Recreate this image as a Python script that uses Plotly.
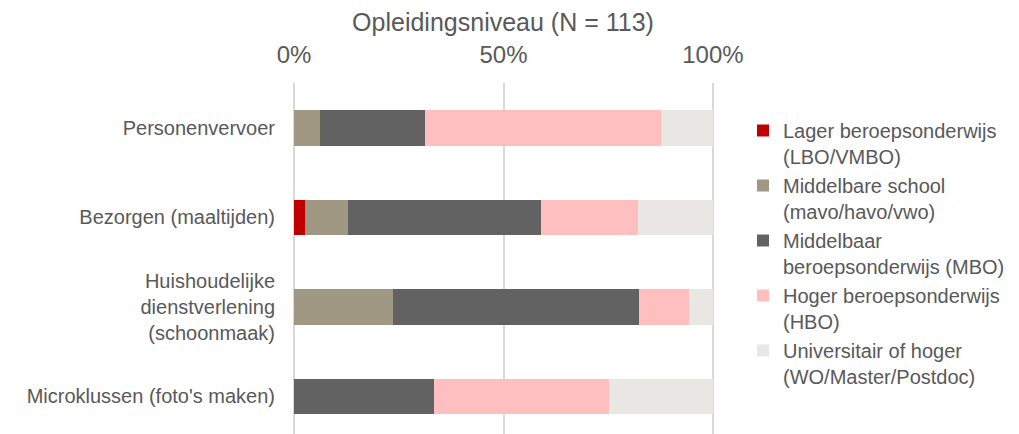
import plotly.graph_objects as go

categories = ["Personenvervoer", "Bezorgen (maaltijden)",
              "Huishoudelijke<br>dienstverlening<br>(schoonmaak)",
              "Microklussen (foto's maken)"]

series_names = ["Lager beroepsonderwijs<br>(LBO/VMBO)",
                "Middelbare school<br>(mavo/havo/vwo)",
                "Middelbaar<br>beroepsonderwijs (MBO)",
                "Hoger beroepsonderwijs<br>(HBO)",
                "Universitair of hoger<br>(WO/Master/Postdoc)"]

lbo = [0.0, 2.5, 0.0, 0.0]
ms = [6.2, 10.3, 23.6, 0.0]
mbo = [25.0, 46.2, 58.8, 33.3]
hbo = [56.4, 23.2, 11.8, 41.8]
wo = [12.4, 17.8, 5.8, 24.9]

colors = ["#C00000", "#A09883", "#626262", "#FFBFBF", "#E9E7E3"]
tick_vals = [0, 50, 100]
tick_text = ["0%", "50%", "100%"]

fig = go.Figure()
for name, vals, col in zip(series_names, [lbo, ms, mbo, hbo, wo], colors):
    fig.add_trace(go.Bar(y=categories, x=vals, name=name, orientation="h",
                         marker=dict(color=col, line=dict(width=0))))

txt = "#595959"
fig.update_layout(
    barmode="stack",
    bargap=0.6,
    width=1019, height=434,
    margin=dict(l=293, r=305, t=83, b=0, autoexpand=False),
    plot_bgcolor="white", paper_bgcolor="white",
    font=dict(family="Liberation Sans, Arial, sans-serif", size=20, color=txt),
    title=dict(text="Opleidingsniveau (N = 113)", x=503/1019, xanchor="center",
               y=1 - 22/434, yanchor="middle", font=dict(size=25, color=txt)),
    xaxis=dict(side="top", range=[-0.25, 100.25], tickvals=tick_vals, ticktext=tick_text,
               showgrid=True, gridcolor="#D9D9D9", gridwidth=2, zeroline=False,
               showline=False, ticks="", ticklabelstandoff=14, automargin=False,
               tickfont=dict(size=24, color=txt)),
    yaxis=dict(categoryorder="array", categoryarray=categories,
               range=[3.42, -0.503], showgrid=False, zeroline=False, automargin=False,
               ticks="", ticklabelstandoff=17, tickfont=dict(size=20, color=txt)),
    legend=dict(xref="container", yref="container", x=743/1019, xanchor="left",
                y=1 - 111/434, yanchor="top", valign="top", maxheight=1000,
                traceorder="normal", font=dict(size=20, color=txt),
                tracegroupgap=0, bgcolor="rgba(0,0,0,0)"),
    showlegend=True,
)

fig.write_html("out.html", config={"displayModeBar": False},
               post_script="document.body.style.margin='0';")
